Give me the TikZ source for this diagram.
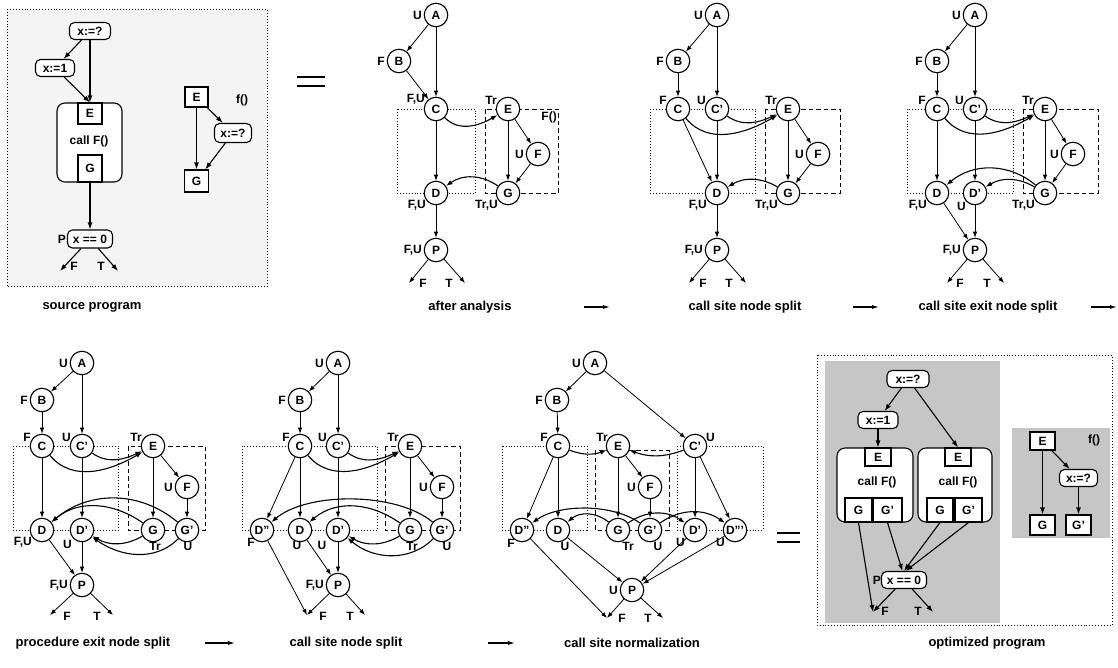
\documentclass[tikz,border=0pt]{standalone}
\usepackage{fontspec}
\setmainfont{Liberation Sans}
\usetikzlibrary{arrows.meta}
\tikzset{
 v/.style={circle,draw,line width=1.1pt,fill=white,minimum size=23.5pt,inner sep=0pt,font=\fontsize{12}{12}\selectfont\bfseries},
 lb/.style={inner sep=0pt,font=\fontsize{12}{12}\selectfont\bfseries},
 ed/.style={-{Latex[length=6pt,width=4.4pt]},line width=0.8pt},
 cv/.style={-{Latex[length=6.5pt,width=4.8pt]},line width=1.1pt},
 dbox/.style={dotted,line width=0.9pt},
 hbox/.style={dash pattern=on 4.5pt off 3pt,line width=0.9pt},
 captxt/.style={inner sep=0pt,font=\fontsize{13}{13}\selectfont\bfseries},
 rr/.style={draw,rounded corners=5pt,line width=1.1pt,fill=white,inner sep=0pt,minimum height=17pt,font=\fontsize{12}{12}\selectfont\bfseries},
 sq/.style={draw,line width=1.1pt,fill=white,inner sep=0pt,font=\fontsize{12}{12}\selectfont\bfseries},
 cbox/.style={draw,rounded corners=8pt,line width=1.1pt,fill=white,inner sep=0pt},
 sed/.style={-{Latex[length=7pt,width=5pt]},line width=1.1pt},
 capar/.style={-{Latex[length=7pt,width=4pt]},line width=1.1pt},
 eq/.style={line width=1.5pt},
}
\begin{document}
\begin{tikzpicture}[x=1pt,y=-1pt]
\useasboundingbox (0,0) rectangle (1118,667);

% ================= source program =================
\fill[gray!9] (7,9) rectangle (267,286);
\draw[dbox] (7,9) rectangle (267,286);
\node[rr,minimum width=41pt] (sX) at (90,31) {x:=?};
\node[rr,minimum width=39pt] (s1) at (55,68) {x:=1};
\node[cbox,minimum width=65pt,minimum height=79pt] (sCall) at (89.5,142.5) {};
\node[sq,minimum width=24pt,minimum height=21pt] (sE) at (90,113.5) {E};
\node[captxt,font=\fontsize{12}{12}\selectfont\bfseries] (sCallT) at (89,141) {call F()};
\node[sq,minimum width=24pt,minimum height=27pt] (sG) at (90,168.5) {G};
\node[rr,minimum width=45pt,minimum height=18pt] (sP) at (90,239) {x == 0};
\node[lb,anchor=east] (sPl) at (66,239) {P};
\coordinate (sFe) at (60,271);
\coordinate (sTe) at (118,271);
\node[lb] (sFl) at (74,266) {F};
\node[lb] (sTl) at (101,266) {T};
\node[sq,minimum width=23pt,minimum height=20pt] (qE) at (196.5,97) {E};
\node[lb] (qfl) at (242,100) {f()};
\node[rr,minimum width=37pt,minimum height=19pt] (qX) at (233,133) {x:=?};
\node[sq,minimum width=24pt,minimum height=22pt] (qG) at (196.5,181) {G};
\draw[sed] (sX) -- (s1);
\draw[sed] (sX) -- (sE);
\draw[sed] (s1) -- (sE.north);
\draw[sed] (sG) -- (sP);
\draw[sed] (sP) -- (sFe);
\draw[sed] (sP) -- (sTe);
\draw[sed] (qE) -- (qG);
\draw[sed] (qE) -- (qX);
\draw[sed] (qX) -- (qG);
\node[captxt] (capS) at (92,307) {source program};

% equal sign 1
\draw[eq] (297,77) -- (325,77);
\draw[eq] (297,86) -- (325,86);

% ================= after analysis =================
\draw[dbox] (397,109) rectangle (475,193);
\draw[hbox] (485,109) rectangle (558,193);
\node[v] (aA) at (436,15) {A};
\node[v] (aB) at (399,61) {B};
\node[v] (aC) at (436,109) {C};
\node[v] (aE) at (508,109) {E};
\node[v] (aF) at (538,154) {F};
\node[v] (aG) at (508,193) {G};
\node[v] (aD) at (436,193) {D};
\node[v] (aP) at (436,250) {P};
\coordinate (aFe) at (409,283);
\coordinate (aTe) at (465,283);
\node[lb,anchor=east] (aAl) at (422,15) {U};
\node[lb,anchor=east] (aBl) at (385,61) {F};
\node[lb,anchor=south east] (aCl) at (425,105) {F,U};
\node[lb,anchor=south east] (aEl) at (497,105) {Tr};
\node[lb,anchor=east] (aFl) at (524,154) {U};
\node[lb,anchor=north east] (aGl) at (498,200) {Tr,U};
\node[lb,anchor=north east] (aDl) at (426,200) {F,U};
\node[lb,anchor=east] (aPl) at (422,250) {F,U};
\node[lb,anchor=north east] (aFnl) at (557,112) {F()};
\node[lb] (aFel) at (423,283) {F};
\node[lb] (aTel) at (449,283) {T};
\draw[ed] (aA) -- (aB);
\draw[ed] (aA) -- (aC);
\draw[ed] (aB) -- (aC);
\draw[ed] (aC) -- (aD);
\draw[cv] (aC) to[out=-45,in=-150] (aE);
\draw[ed] (aE) -- (aF);
\draw[ed] (aE) -- (aG);
\draw[ed] (aF) -- (aG);
\draw[cv] (aG) to[out=145,in=35] (aD);
\draw[ed] (aD) -- (aP);
\draw[ed] (aP) -- (aFe);
\draw[ed] (aP) -- (aTe);
\node[captxt] (capA) at (470,307) {after analysis};

% ================= call site node split (1) =================
\draw[dbox] (650,109) rectangle (755,193);
\draw[hbox] (765,109) rectangle (840,193);
\node[v] (bA) at (717,15) {A};
\node[v] (bB) at (678,61) {B};
\node[v] (bC) at (678,109) {C};
\node[v] (bCp) at (717,109) {C'};
\node[v] (bE) at (788,109) {E};
\node[v] (bF) at (818,154) {F};
\node[v] (bG) at (788,193) {G};
\node[v] (bD) at (717,193) {D};
\node[v] (bP) at (717,250) {P};
\coordinate (bFe) at (689,283);
\coordinate (bTe) at (746,283);
\node[lb,anchor=east] (bAl) at (703,15) {U};
\node[lb,anchor=east] (bBl) at (664,61) {F};
\node[lb,anchor=south east] (bCl) at (667,105) {F};
\node[lb,anchor=south east] (bCpl) at (706,105) {U};
\node[lb,anchor=south east] (bEl) at (777,105) {Tr};
\node[lb,anchor=east] (bFl) at (804,154) {U};
\node[lb,anchor=north east] (bGl) at (778,200) {Tr,U};
\node[lb,anchor=north east] (bDl) at (707,200) {F,U};
\node[lb,anchor=east] (bPl) at (703,250) {F,U};
\node[lb] (bFel) at (703,283) {F};
\node[lb] (bTel) at (729,283) {T};
\draw[ed] (bA) -- (bB);
\draw[ed] (bA) -- (bCp);
\draw[ed] (bB) -- (bC);
\draw[ed] (bC) -- (bD);
\draw[ed] (bCp) -- (bD);
\draw[cv] (bC) to[out=-50,in=-150] (bE);
\draw[cv] (bCp) to[out=-35,in=-155] (bE);
\draw[ed] (bE) -- (bF);
\draw[ed] (bE) -- (bG);
\draw[ed] (bF) -- (bG);
\draw[cv] (bG) to[out=150,in=30] (bD);
\draw[ed] (bD) -- (bP);
\draw[ed] (bP) -- (bFe);
\draw[ed] (bP) -- (bTe);
\node[captxt] (capB) at (745,307) {call site node split};

% ================= call site exit node split =================
\draw[dbox] (907,109) rectangle (1013,193);
\draw[hbox] (1023,109) rectangle (1098,193);
\node[v] (cA) at (975,15) {A};
\node[v] (cB) at (937,61) {B};
\node[v] (cC) at (937,109) {C};
\node[v] (cCp) at (975,109) {C'};
\node[v] (cE) at (1045,109) {E};
\node[v] (cF) at (1073,154) {F};
\node[v] (cG) at (1045,193) {G};
\node[v] (cD) at (937,193) {D};
\node[v] (cDp) at (975,193) {D'};
\node[v] (cP) at (975,250) {P};
\coordinate (cFe) at (947,283);
\coordinate (cTe) at (1004,283);
\node[lb,anchor=east] (cAl) at (961,15) {U};
\node[lb,anchor=east] (cBl) at (923,61) {F};
\node[lb,anchor=south east] (cCl) at (926,105) {F};
\node[lb,anchor=south east] (cCpl) at (964,105) {U};
\node[lb,anchor=south east] (cEl) at (1034,105) {Tr};
\node[lb,anchor=east] (cFl) at (1059,154) {U};
\node[lb,anchor=north east] (cGl) at (1035,200) {Tr,U};
\node[lb,anchor=north east] (cDl) at (927,200) {F,U};
\node[lb,anchor=north east] (cDpl) at (966,202) {U};
\node[lb,anchor=east] (cPl) at (961,250) {F,U};
\node[lb] (cFel) at (960,283) {F};
\node[lb] (cTel) at (987,283) {T};
\draw[ed] (cA) -- (cB);
\draw[ed] (cA) -- (cCp);
\draw[ed] (cB) -- (cC);
\draw[ed] (cC) -- (cD);
\draw[ed] (cCp) -- (cDp);
\draw[cv] (cC) to[out=-50,in=-150] (cE);
\draw[cv] (cCp) to[out=-35,in=-155] (cE);
\draw[ed] (cE) -- (cF);
\draw[ed] (cE) -- (cG);
\draw[ed] (cF) -- (cG);
\draw[cv] (cG) to[out=140,in=40] (cD);
\draw[cv] (cG) to[out=150,in=30] (cDp);
\draw[ed] (cD) -- (cP);
\draw[ed] (cDp) -- (cP);
\draw[ed] (cP) -- (cFe);
\draw[ed] (cP) -- (cTe);
\node[captxt] (capC) at (988,307) {call site exit node split};

% caption arrows row 1
\coordinate (r1a) at (584,307); \coordinate (r1b) at (610,307);
\coordinate (r1c) at (853,307); \coordinate (r1d) at (879,307);
\coordinate (r1e) at (1091,307); \coordinate (r1f) at (1117,307);
\draw[capar] (r1a) -- (r1b);
\draw[capar] (r1c) -- (r1d);
\draw[capar] (r1e) -- (r1f);

% ================= procedure exit node split =================
\draw[dbox] (13,446) rectangle (118,530);
\draw[hbox] (128,446) rectangle (205,530);
\node[v] (dA) at (82,363) {A};
\node[v] (dB) at (42,400) {B};
\node[v] (dC) at (42,446) {C};
\node[v] (dCp) at (82,446) {C'};
\node[v] (dE) at (153,446) {E};
\node[v] (dF) at (187,487) {F};
\node[v] (dG) at (153,530) {G};
\node[v] (dGp) at (187,530) {G'};
\node[v] (dD) at (42,530) {D};
\node[v] (dDp) at (82,530) {D'};
\node[v] (dP) at (82,585) {P};
\coordinate (dFe) at (50,615);
\coordinate (dTe) at (113,615);
\node[lb,anchor=east] (dAl) at (68,363) {U};
\node[lb,anchor=east] (dBl) at (28,400) {F};
\node[lb,anchor=south east] (dCl) at (31,442) {F};
\node[lb,anchor=south east] (dCpl) at (71,442) {U};
\node[lb,anchor=south east] (dEl) at (142,442) {Tr};
\node[lb,anchor=east] (dFl) at (173,487) {U};
\node[lb,anchor=north] (dGl) at (155,542) {Tr};
\node[lb,anchor=north] (dGpl) at (188,542) {U};
\node[lb,anchor=north east] (dDl) at (32,537) {F,U};
\node[lb,anchor=north east] (dDpl) at (72,540) {U};
\node[lb,anchor=east] (dPl) at (68,585) {F,U};
\node[lb] (dFel) at (67,616) {F};
\node[lb] (dTel) at (97,616) {T};
\draw[ed] (dA) -- (dB);
\draw[ed] (dA) -- (dCp);
\draw[ed] (dB) -- (dC);
\draw[ed] (dC) -- (dD);
\draw[ed] (dCp) -- (dDp);
\draw[cv] (dC) to[out=-50,in=-150] (dE);
\draw[cv] (dCp) to[out=-35,in=-155] (dE);
\draw[ed] (dE) -- (dF);
\draw[ed] (dE) -- (dG);
\draw[ed] (dF) -- (dGp);
\draw[cv] (dG) to[out=145,in=40] (dD);
\draw[cv] (dGp) to[out=140,in=40] (dD);
\draw[cv] (dG) to[out=-150,in=-30] (dDp);
\draw[cv] (dGp) to[out=-135,in=-35] (dDp);
\draw[ed] (dD) -- (dP);
\draw[ed] (dDp) -- (dP);
\draw[ed] (dP) -- (dFe);
\draw[ed] (dP) -- (dTe);
\node[captxt] (capD) at (93,643) {procedure exit node split};

% ================= call site node split (2) =================
\draw[dbox] (242,446) rectangle (377,530);
\draw[hbox] (385,446) rectangle (460,530);
\node[v] (eA) at (338,363) {A};
\node[v] (eB) at (300,400) {B};
\node[v] (eC) at (300,446) {C};
\node[v] (eCp) at (338,446) {C'};
\node[v] (eE) at (410,446) {E};
\node[v] (eF) at (442,487) {F};
\node[v] (eDpp) at (262,530) {D''};
\node[v] (eD) at (300,530) {D};
\node[v] (eDp) at (338,530) {D'};
\node[v] (eG) at (410,530) {G};
\node[v] (eGp) at (442,530) {G'};
\node[v] (eP) at (338,585) {P};
\coordinate (eFe) at (307,615);
\coordinate (eTe) at (365,615);
\node[lb,anchor=east] (eAl) at (324,363) {U};
\node[lb,anchor=east] (eBl) at (286,400) {F};
\node[lb,anchor=south east] (eCl) at (290,442) {F};
\node[lb,anchor=south east] (eCpl) at (327,442) {U};
\node[lb,anchor=south east] (eEl) at (399,442) {Tr};
\node[lb,anchor=east] (eFl) at (428,487) {U};
\node[lb,anchor=north east] (eDppl) at (255,538) {F};
\node[lb,anchor=north] (eDl) at (297,541) {U};
\node[lb,anchor=north] (eDpl) at (322,541) {U};
\node[lb,anchor=north] (eGl) at (412,542) {Tr};
\node[lb,anchor=north] (eGpl) at (447,542) {U};
\node[lb,anchor=east] (ePl) at (324,585) {F,U};
\node[lb] (eFel) at (323,616) {F};
\node[lb] (eTel) at (350,616) {T};
\draw[ed] (eA) -- (eB);
\draw[ed] (eA) -- (eCp);
\draw[ed] (eB) -- (eC);
\draw[ed] (eC) -- (eDpp);
\draw[ed] (eC) -- (eD);
\draw[ed] (eCp) -- (eDp);
\draw[cv] (eC) to[out=-50,in=-150] (eE);
\draw[cv] (eCp) to[out=-35,in=-155] (eE);
\draw[ed] (eE) -- (eF);
\draw[ed] (eE) -- (eG);
\draw[ed] (eF) -- (eGp);
\draw[cv] (eG) to[out=145,in=40] (eD);
\draw[cv] (eGp) to[out=140,in=40,looseness=0.75] (eDpp);
\draw[cv] (eG) to[out=-150,in=-30] (eDp);
\draw[cv] (eGp) to[out=-135,in=-40] (eDp);
\draw[ed] (eD) -- (eP);
\draw[ed] (eDp) -- (eP);
\draw[ed] (eDpp) -- (eFe);
\draw[ed] (eP) -- (eFe);
\draw[ed] (eP) -- (eTe);
\node[captxt] (capE) at (346,643) {call site node split};

% ================= call site normalization =================
\draw[dbox] (502,446) rectangle (587,530);
\draw[dbox] (677,446) rectangle (763,530);
\draw[hbox] (595,450) rectangle (669,530);
\node[v] (nA) at (595,363) {A};
\node[v] (nB) at (557,400) {B};
\node[v] (nC) at (558,446) {C};
\node[v] (nE) at (618,446) {E};
\node[v] (nCp) at (695,446) {C'};
\node[v] (nF) at (650,487) {F};
\node[v] (nDpp) at (522,530) {D''};
\node[v] (nD) at (558,530) {D};
\node[v] (nG) at (618,530) {G};
\node[v] (nGp) at (650,530) {G'};
\node[v] (nDp) at (695,530) {D'};
\node[v] (nDppp) at (735,530) {D'''};
\node[v] (nP) at (632,590) {P};
\coordinate (nFe) at (607,618);
\coordinate (nTe) at (663,618);
\node[lb,anchor=east] (nAl) at (581,363) {U};
\node[lb,anchor=east] (nBl) at (543,400) {F};
\node[lb,anchor=south east] (nCl) at (548,442) {F};
\node[lb,anchor=south east] (nEl) at (608,442) {Tr};
\node[lb,anchor=south west] (nCpl) at (706,442) {U};
\node[lb,anchor=east] (nFl) at (636,487) {U};
\node[lb,anchor=north east] (nDppl) at (515,539) {F};
\node[lb,anchor=north] (nDl) at (565,542) {U};
\node[lb,anchor=north] (nGl) at (628,542) {Tr};
\node[lb,anchor=north] (nGpl) at (658,542) {U};
\node[lb,anchor=north east] (nDpl) at (685,538) {U};
\node[lb,anchor=north east] (nDpppl) at (725,538) {U};
\node[lb,anchor=east] (nPl) at (618,590) {U};
\node[lb] (nFel) at (622,618) {F};
\node[lb] (nTel) at (648,618) {T};
\draw[ed] (nA) -- (nB);
\draw[ed] (nA) -- (nCp);
\draw[ed] (nB) -- (nC);
\draw[ed] (nC) -- (nDpp);
\draw[ed] (nC) -- (nD);
\draw[cv] (nC) to[out=-20,in=-160] (nE);
\draw[cv] (nCp) to[out=-160,in=-20] (nE);
\draw[ed] (nE) -- (nF);
\draw[ed] (nE) -- (nG);
\draw[ed] (nF) -- (nGp);
\draw[ed] (nCp) -- (nDp);
\draw[ed] (nCp) -- (nDppp);
\draw[cv] (nG) to[out=140,in=40] (nD);
\draw[cv] (nGp) to[out=145,in=35,looseness=0.8] (nDpp);
\draw[cv] (nG) to[out=35,in=145] (nDp);
\draw[cv] (nGp) to[out=35,in=145] (nDppp);
\draw[ed] (nD) -- (nP);
\draw[ed] (nDp) -- (nP);
\draw[ed] (nDppp) -- (nP);
\draw[ed] (nDpp) -- (nFe);
\draw[ed] (nP) -- (nFe);
\draw[ed] (nP) -- (nTe);
\node[captxt] (capN) at (632,643) {call site normalization};

% caption arrows row 2
\coordinate (r2a) at (205,643); \coordinate (r2b) at (235,643);
\coordinate (r2c) at (488,643); \coordinate (r2d) at (515,643);
\draw[capar] (r2a) -- (r2b);
\draw[capar] (r2c) -- (r2d);

% equal sign 2
\draw[eq] (777,533) -- (800,533);
\draw[eq] (777,542) -- (800,542);

% ================= optimized program =================
\fill[gray!45] (825,361) rectangle (1000,623);
\fill[gray!45] (1012,428) rectangle (1110,538);
\draw[dbox] (817,355) rectangle (1112,625);
\node[rr,minimum width=42pt] (oX) at (908,379) {x:=?};
\node[rr,minimum width=40pt] (o1) at (878,420) {x:=1};
\node[cbox,minimum width=76pt,minimum height=74pt] (oC1) at (875,485) {};
\node[sq,minimum width=26pt,minimum height=18pt] (oE1) at (878,457) {E};
\node[captxt,font=\fontsize{12}{12}\selectfont\bfseries] (oC1t) at (877,482) {call F()};
\node[sq,minimum width=27pt,minimum height=24pt] (oG1) at (858.5,510) {G};
\node[sq,minimum width=29pt,minimum height=24pt] (oGp1) at (887.5,510) {G'};
\node[cbox,minimum width=74pt,minimum height=74pt] (oC2) at (955,485) {};
\node[sq,minimum width=26pt,minimum height=18pt] (oE2) at (958,457) {E};
\node[captxt,font=\fontsize{12}{12}\selectfont\bfseries] (oC2t) at (958,482) {call F()};
\node[sq,minimum width=26pt,minimum height=24pt] (oG2) at (940,510) {G};
\node[sq,minimum width=27pt,minimum height=24pt] (oGp2) at (968.5,510) {G'};
\node[rr,minimum width=45pt] (oP) at (904,580) {x == 0};
\node[lb,anchor=east] (oPl) at (881,580) {P};
\coordinate (oFe) at (873,612);
\coordinate (oTe) at (933,612);
\node[lb] (oFl) at (885,611) {F};
\node[lb] (oTl) at (918,611) {T};
\node[sq,minimum width=25pt,minimum height=18pt] (pE) at (1042.5,441) {E};
\node[lb] (pfl) at (1094,440) {f()};
\node[rr,minimum width=38pt] (pX) at (1078.5,478) {x:=?};
\node[sq,minimum width=25pt,minimum height=20pt] (pG) at (1042.5,525) {G};
\node[sq,minimum width=25pt,minimum height=20pt] (pGp) at (1078.5,525) {G'};
\draw[sed] (oX) -- (o1);
\draw[sed] (oX) -- (oE2.north);
\draw[sed] (o1) -- (oE1);
\draw[sed] (oG1.south) -- (oFe);
\draw[sed] (oGp1.south) -- (oP.100);
\draw[sed] (oG2.south) -- (oP.north);
\draw[sed] (oGp2.south) -- (oP.80);
\draw[sed] (oP) -- (oFe);
\draw[sed] (oP) -- (oTe);
\draw[sed] (pE) -- (pG);
\draw[sed] (pE) -- (pX);
\draw[sed] (pX) -- (pGp);
\node[captxt] (capO) at (987,643) {optimized program};
\end{tikzpicture}
\end{document}
